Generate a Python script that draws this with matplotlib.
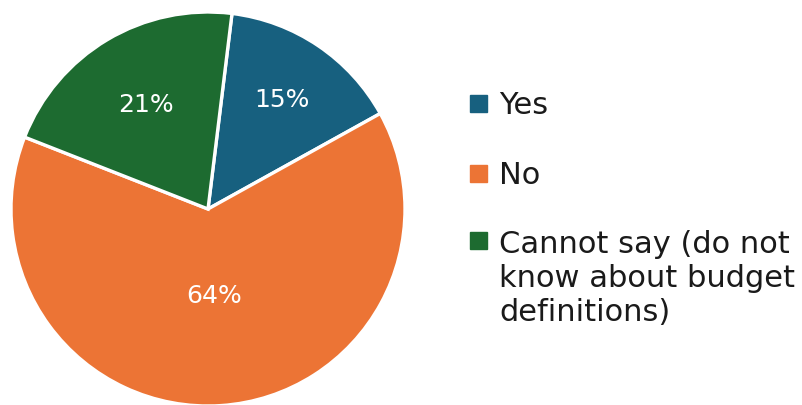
import matplotlib.pyplot as plt
from matplotlib.patches import Rectangle

labels = ['Yes', 'No', 'Cannot say (do not\nknow about budget\ndefinitions)']
shares = [15, 64, 21]
colors = ['#17607f', '#ec7435', '#1d6b30']
# radial position of each percentage label, as a fraction of the radius
label_radius = [0.675, 0.44, 0.62]

plt.rcParams['font.family'] = ['DejaVu Sans']

fig = plt.figure(figsize=(8.02, 4.06), dpi=100)
ax = fig.add_axes([11 / 802, -1 / 406, 394 / 802, 394 / 406])

wedges, texts, autotexts = ax.pie(
    shares, colors=colors, startangle=83, counterclock=False,
    autopct='%d%%', pctdistance=0.5, radius=1,
    wedgeprops=dict(edgecolor='white', linewidth=2.4),
    textprops=dict(color='white', fontsize=18),
)
for t, r in zip(autotexts, label_radius):
    x, y = t.get_position()
    t.set_position((x / 0.5 * r, y / 0.5 * r))
ax.set_xlim(-1, 1)
ax.set_ylim(-1, 1)
ax.set_aspect('equal')
ax.axis('off')

# legend drawn by hand so the swatch lines up with the first text line
W, H = 802, 406
swatch_y = [104, 174, 241]
text_y = [106, 176, 230]
for lab, col, sy, ty in zip(labels, colors, swatch_y, text_y):
    fig.patches.append(Rectangle((470 / W, (H - sy - 8.5) / H), 17 / W, 17 / H,
                                 transform=fig.transFigure, color=col))
    fig.text(499 / W, (H - ty) / H, lab, fontsize=22, color='#1a1a1a',
             va='top' if '\n' in lab else 'center', ha='left',
             linespacing=1.22)

fig.savefig('out.png', dpi=100)
